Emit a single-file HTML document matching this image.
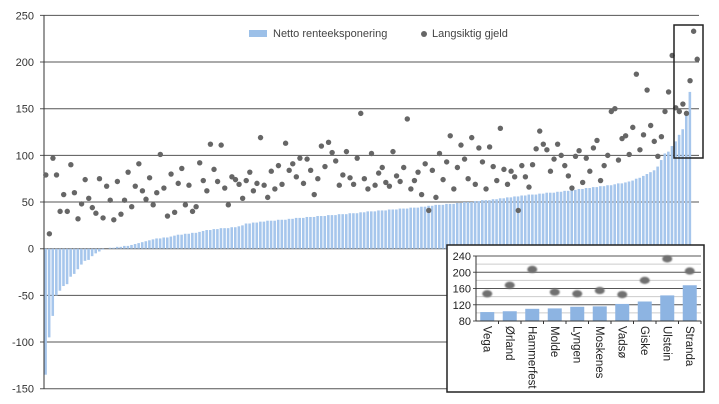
<!DOCTYPE html>
<html><head><meta charset="utf-8"><style>
html,body{margin:0;padding:0;background:#fff;}
svg{display:block;font-family:"Liberation Sans",sans-serif;}
</style></head><body>
<svg id="chart" width="719" height="404" viewBox="0 0 719 404">
<defs><filter id="blur" x="-50%" y="-50%" width="200%" height="200%"><feGaussianBlur stdDeviation="0.8"/></filter></defs>
<g id="main"></g>
<g id="legend">
<rect x="249" y="30" width="18" height="7" fill="#9cc0e8"/>
<text x="273" y="37" font-size="11" fill="#444">Netto renteeksponering</text>
<circle cx="424" cy="34" r="3" fill="#666"/>
<text x="432" y="37" font-size="11" fill="#444">Langsiktig gjeld</text>
</g>
<rect x="674" y="25" width="29" height="133" fill="none" stroke="#222" stroke-width="1.5"/>
<g id="inset"></g>
</svg>
<script>
const bars=[-135,-95,-72,-50,-45,-40,-38,-30,-27,-22,-17,-13,-12,-8,-5,-3,
-1,0,1,1,2,
2,3,3,4,5,6,7,8,9,10,
11,11,12,12,13,14,15,15,16,16,
17,17,18,19,20,20,21,21,22,22,
22,23,23,24,25,27,27,28,28,29,
29,30,30,30,31,31,31,32,32,33,
33,33,34,34,34,35,35,35,36,36,
36,37,37,37,38,38,38,39,39,40,
40,40,41,41,41,42,42,42,43,43,
43,44,44,44,45,45,46,46,47,47,
47,48,48,48,49,49,50,50,50,51,
51,52,52,52,53,53,54,54,55,55,
56,56,57,57,58,58,58,59,59,60,
60,60,61,61,62,62,63,63,64,64,
65,65,66,66,67,67,68,68,69,70,
70,71,72,73,75,76,78,80,82,84,
88,95,102,104,110,115,122,128,143,168];
const points=[79,16,97,79,40,58,40,90,60,32,48,74,54,44,38,75,33,67,52,31,
72,37,52,82,45,67,91,62,53,76,47,60,101,65,35,80,39,70,86,47,
68,40,45,92,73,62,112,85,72,111,65,47,77,74,69,54,73,82,62,70,
119,68,55,83,64,89,69,113,84,91,77,97,70,96,84,58,75,110,88,114,
103,94,68,79,104,76,69,97,145,75,64,102,68,81,87,71,67,104,78,72,
87,139,64,73,82,58,91,41,84,55,102,74,93,121,64,87,111,96,75,119,
69,108,93,64,109,88,73,129,85,69,83,77,41,89,77,66,90,107,126,112,
106,83,96,112,100,89,78,65,99,105,71,97,83,108,116,73,89,100,147,150,
95,118,121,101,130,187,106,122,170,132,115,
99,120,147,168,207,151,147,155,145,180,233,203];
const yTicks=[250,200,150,100,50,0,-50,-100,-150];
const insetNames=["Vega","Ørland","Hammerfest","Molde","Lyngen","Moskenes","Vadsø","Giske","Ulstein","Stranda"];
const insetBars=[102,104,110,111,115,116,122,128,143,168];
const insetPoints=[147,168,207,151,147,155,145,180,233,203];
const insetTicks=[240,200,160,120,80];

const NS="http://www.w3.org/2000/svg";
function mk(tag,attrs,parent){const e=document.createElementNS(NS,tag);for(const k in attrs)e.setAttribute(k,attrs[k]);parent.appendChild(e);return e;}
const main=document.getElementById('main');
const X0=44,X1=699;
const y=v=>248.7-v*0.9333;
const n=Math.max(bars.length,points.length);
const step=(X1-X0)/n;
const x=i=>X0+i*step;
yTicks.forEach(t=>{
  const g=mk('line',{x1:X0-4,x2:X1,y1:y(t),y2:y(t),stroke:'#555','stroke-width':1},main);
  
  
  const tx=mk('text',{x:34,y:y(t)+4,'font-size':11,fill:'#333','text-anchor':'end'},main);
  tx.textContent=t;
  
  
});
bars.forEach((v,i)=>{
  const r=mk('rect',{x:x(i)+0.3,y:Math.min(y(v),y(0)),width:Math.max(step-1,1),height:Math.abs(y(v)-y(0)),fill:'#a6c6ec'},main);
  
  
});
const ax=mk('line',{x1:X0,x2:X0,y1:y(250),y2:y(-150),stroke:'#333','stroke-width':1},main);


points.forEach((v,i)=>{
  const c=mk('circle',{cx:x(i)+step/2,cy:y(v),r:2.7,fill:'#666'},main);
  
  
});

const inset=document.getElementById('inset');
const bg=mk('rect',{x:447,y:245,width:257,height:147,fill:'#fff',stroke:'#222','stroke-width':1.5},inset);


const IX0=476,IX1=701;
const iy=v=>321-(v-80)*(65/160);
for(let t=100;t<240;t+=40){
  const l=mk('line',{x1:IX0,x2:IX1,y1:iy(t),y2:iy(t),stroke:'#ccc','stroke-width':1},inset);
  
  
}
insetTicks.forEach(t=>{
  const l=mk('line',{x1:IX0-3,x2:IX1,y1:iy(t),y2:iy(t),stroke:'#555','stroke-width':1},inset);
  
  
  const tx=mk('text',{x:471,y:iy(t)+4,'font-size':11,fill:'#222','text-anchor':'end'},inset);
  tx.textContent=t;
  
  
});
const iax=mk('line',{x1:IX0,x2:IX0,y1:iy(240),y2:iy(80),stroke:'#333'},inset);


const slot=(IX1-IX0)/insetNames.length;
insetNames.forEach((nm,i)=>{
  const cx=IX0+slot*(i+0.5);
  const r=mk('rect',{x:cx-7,y:iy(insetBars[i]),width:14,height:iy(80)-iy(insetBars[i]),fill:'#8db4e2'},inset);
  
  
  const tk=mk('line',{x1:IX0+slot*(i+1),x2:IX0+slot*(i+1),y1:iy(80),y2:iy(80)+3,stroke:'#333'},inset);
  
  
  const p=mk('ellipse',{cx:cx,cy:iy(insetPoints[i]),rx:5,ry:3.6,fill:'#6f6f6f',filter:'url(#blur)'},inset);
  
  
  const tx=mk('text',{x:0,y:0,'font-size':11.5,fill:'#222',transform:`translate(${cx-4},326) rotate(90)`},inset);
  tx.textContent=nm;
  
  
});
const ibase=mk('line',{x1:IX0,x2:IX1,y1:iy(80),y2:iy(80),stroke:'#333'},inset);


</script>
</body></html>
